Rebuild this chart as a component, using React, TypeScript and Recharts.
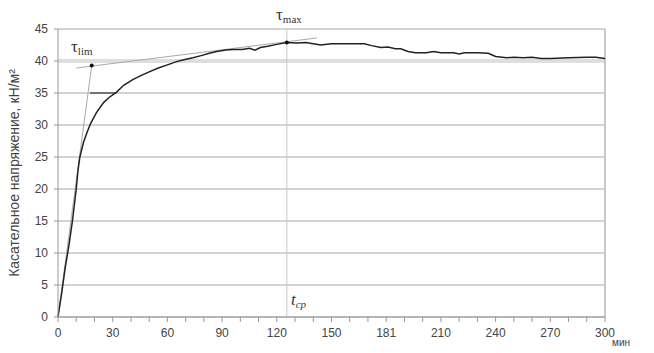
import React from 'react';
import {
  LineChart, Line, XAxis, YAxis, CartesianGrid, ReferenceLine, ReferenceDot,
} from 'recharts';

// shear stress curve, minutes vs kN/m2
const TIME = [
  0, 2, 4, 6, 8, 10, 11, 12, 14, 16, 18, 21, 25, 28, 32, 36, 41, 46, 50, 55,
  60, 65, 69, 74, 78, 83, 87, 92, 96, 101, 105, 108, 111, 115, 120, 125.5, 131, 136, 140, 144,
  150, 160, 168, 172, 177, 181, 185, 188, 192, 196, 202, 206, 210, 217, 220, 223, 230, 236, 240, 246,
  250, 255, 260, 265, 270, 280, 290, 295, 300,
];
const STRESS = [
  0, 3.7, 7.8, 11.2, 15.2, 20, 23, 25, 27.3, 28.9, 30.3, 31.9, 33.5, 34.3, 35.1, 36.2, 37.1, 37.8, 38.3, 38.9,
  39.4, 39.9, 40.2, 40.5, 40.8, 41.2, 41.5, 41.7, 41.8, 41.8, 42.0, 41.7, 42.1, 42.3, 42.6, 42.9, 42.8, 42.9, 42.7, 42.5,
  42.7, 42.7, 42.7, 42.4, 42.1, 42.2, 41.9, 41.9, 41.5, 41.3, 41.3, 41.5, 41.3, 41.3, 41.1, 41.3, 41.3, 41.2, 40.7, 40.5,
  40.6, 40.5, 40.6, 40.4, 40.4, 40.5, 40.6, 40.6, 40.4,
];

const X_TICKS = [0, 10, 20, 30, 40, 50, 60, 70, 80, 90, 100, 110, 120, 130, 140, 150, 160, 170, 180, 190, 200, 210, 220, 230, 240, 250, 260, 270, 280, 290, 300];
const X_LABELS: Record<number, string> = {
  0: '0', 30: '30', 60: '60', 90: '90', 120: '120', 150: '150', 180: '181', 210: '210', 240: '240', 270: '270', 300: '300',
};
const Y_TICKS = [0, 5, 10, 15, 20, 25, 30, 35, 40, 45];

const T_MAX = { x: 125.5, y: 42.9 };
const T_LIM = { x: 18.5, y: 39.3 };
const TANGENT_START = [{ x: 0, y: 0 }, { x: 18.5, y: 39.3 }];
const TANGENT_PLATEAU = [{ x: 10, y: 38.9 }, { x: 142, y: 43.6 }];
const MARK_35 = [{ x: 17.5, y: 35 }, { x: 32, y: 35 }];

const data = TIME.map((t, i) => ({ t, v: STRESS[i] }));

const tickStyle = { fontFamily: 'Liberation Sans, Arial, sans-serif', fontSize: 12, fill: '#444' };

export default function App() {
  return (
    <div style={{ position: 'fixed', left: 0, top: 0, width: 654, height: 353, background: '#fff' }}>
      <LineChart width={654} height={353} data={data} margin={{ top: 29, right: 49, bottom: 6, left: 0 }}>
        <CartesianGrid horizontal vertical={false} stroke="#c4c4c4" strokeWidth={1.5} />
        <XAxis
          dataKey="t"
          type="number"
          domain={[0, 300]}
          ticks={X_TICKS}
          interval={0}
          tickFormatter={(v) => X_LABELS[v] ?? ''}
          tick={tickStyle}
          tickSize={5}
          tickMargin={6}
          stroke="#999"
          height={30}
        />
        <YAxis
          type="number"
          domain={[0, 45]}
          ticks={Y_TICKS}
          interval={0}
          tick={tickStyle}
          tickSize={4}
          tickMargin={6}
          stroke="#999"
          width={58}
          label={{
            value: 'Касательное напряжение, кН/м²',
            angle: -90,
            position: 'insideLeft',
            offset: 14,
            style: { fontFamily: 'Liberation Sans, Arial, sans-serif', fontSize: 14, fill: '#444', textAnchor: 'middle' },
          }}
        />
        <ReferenceLine y={40} stroke="#dedede" strokeWidth={4} />
        <ReferenceLine x={300} stroke="#b8b8b8" strokeWidth={1.5} />
        <ReferenceLine x={T_MAX.x} stroke="#c8c8c8" strokeWidth={1} />
        <ReferenceLine segment={TANGENT_START} stroke="#aaa" strokeWidth={1} />
        <ReferenceLine segment={TANGENT_PLATEAU} stroke="#aaa" strokeWidth={1} />
        <ReferenceLine segment={MARK_35} stroke="#333" strokeWidth={1.2} />
        <Line
          type="linear"
          dataKey="v"
          stroke="#222"
          strokeWidth={1.5}
          dot={false}
          isAnimationActive={false}
        />
        <ReferenceDot x={T_MAX.x} y={T_MAX.y} r={2} fill="#111" stroke="none" />
        <ReferenceDot x={T_LIM.x} y={T_LIM.y} r={2} fill="#111" stroke="none" />
      </LineChart>
      <svg width={654} height={353} style={{ position: 'absolute', left: 0, top: 0, pointerEvents: 'none' }}>
        <text x={276} y={20} fontFamily="Liberation Serif, serif" fontSize={17} fill="#333">
          τ<tspan fontSize={11} dy={3}>max</tspan>
        </text>
        <text x={71} y={52} fontFamily="Liberation Serif, serif" fontSize={17} fill="#333">
          τ<tspan fontSize={11} dy={3}>lim</tspan>
        </text>
        <text x={291} y={305} fontFamily="Liberation Serif, serif" fontStyle="italic" fontSize={17} fill="#333">
          t<tspan fontSize={11} dy={3}>ср</tspan>
        </text>
        <text x={612} y={346} fontFamily="Liberation Sans, Arial, sans-serif" fontSize={10} fill="#444">
          мин
        </text>
      </svg>
    </div>
  );
}
